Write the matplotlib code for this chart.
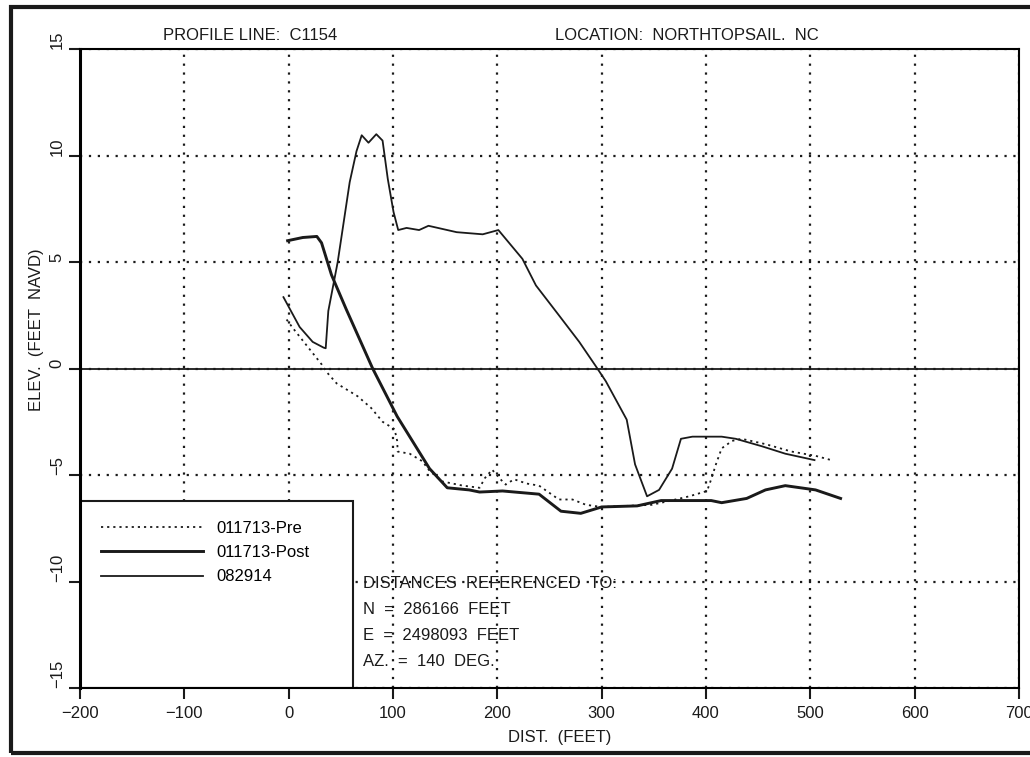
import matplotlib.pyplot as plt
from matplotlib.patches import Rectangle

plt.rcParams['font.family'] = ['Liberation Sans', 'DejaVu Sans']

# survey profiles (distance in feet, elevation in feet NAVD)
pre_x = [-2, 4, 31.5, 37, 46, 66, 79, 90, 101.5, 104, 104.5, 116, 128, 135, 147, 167, 183, 188, 195,
         202, 208, 216, 228, 240, 259, 272, 285, 300, 348, 362, 384, 401, 405, 409.5, 415, 425, 434,
         457, 482, 505, 520]
pre_y = [2.3, 1.9, 0.2, -0.2, -0.7, -1.3, -1.85, -2.5, -2.85, -3.4, -3.9, -4.0, -4.35, -4.8, -5.3, -5.5,
         -5.6, -5.15, -4.75, -5.15, -5.45, -5.2, -5.4, -5.5, -6.15, -6.15, -6.4, -6.5, -6.4, -6.25, -6.0,
         -5.75, -5.2, -4.5, -3.75, -3.4, -3.3, -3.55, -3.9, -4.1, -4.3]

post_x = [-1, 13.5, 27, 31.5, 41, 55, 80.5, 104, 135, 152, 173, 183, 205, 240, 261, 280, 300, 334, 357,
          405, 415, 439, 457, 476, 505, 529]
post_y = [6.0, 6.15, 6.2, 5.9, 4.4, 2.8, 0.0, -2.25, -4.7, -5.6, -5.7, -5.8, -5.75, -5.9, -6.7, -6.8,
          -6.5, -6.45, -6.2, -6.2, -6.3, -6.1, -5.7, -5.5, -5.7, -6.1]

aug_x = [-5, 10.5, 23, 33.5, 35.5, 38, 47, 58.5, 65, 70, 76.5, 84, 90, 95, 100.5, 105, 113, 125, 134,
         161, 186, 201, 224, 237, 259, 278.5, 294.5, 304, 324, 332, 343.5, 355, 367.5, 376, 387, 415,
         428.5, 453.5, 476, 504]
aug_y = [3.35, 1.95, 1.25, 0.98, 0.95, 2.7, 5.0, 8.75, 10.2, 10.95, 10.6, 11.0, 10.7, 8.9, 7.35, 6.5,
         6.6, 6.5, 6.7, 6.4, 6.3, 6.5, 5.15, 3.9, 2.5, 1.25, 0.1, -0.6, -2.4, -4.5, -6.0, -5.7, -4.7,
         -3.3, -3.2, -3.2, -3.3, -3.65, -4.0, -4.3]

labels = ['011713-Pre', '011713-Post', '082914']
xticks = list(range(-200, 701, 100))
yticks = list(range(-15, 16, 5))

fig = plt.figure(figsize=(10.3, 7.57), dpi=100)
ax = fig.add_axes([80/1030, 1-688/757, 939/1030, 639/757])

ink = '#1a1a1a'
ax.plot(pre_x, pre_y, color=ink, lw=1.3, ls=(0, (1.2, 2.2)), label=labels[0], zorder=3)
ax.plot(post_x, post_y, color=ink, lw=2.1, label=labels[1], zorder=3)
ax.plot(aug_x, aug_y, color=ink, lw=1.3, label=labels[2], zorder=3)
ax.axhline(0, color=ink, lw=1.3, zorder=2)

ax.set_xlim(-200, 700)
ax.set_ylim(-15, 15)
ax.set_xticks(xticks)
ax.set_yticks(yticks)
ax.set_yticklabels([str(v).replace('-', '\u2212') for v in yticks], rotation=90, va='bottom')
ax.tick_params(direction='out', length=8, width=1.5, labelsize=12, colors=ink, pad=5)
ax.tick_params(axis='y', pad=3)
ax.set_axisbelow(True)
ax.grid(True, color=ink, lw=1.6, ls=(0, (1, 3)))

for side in ['top', 'bottom', 'right']:
    ax.spines[side].set_linewidth(1.5)
ax.spines['left'].set_linewidth(2.2)

# legend box sits in the lower left corner of the plot
ax.add_patch(Rectangle((0, 0), 273/939, 187/639, transform=ax.transAxes,
                       facecolor='white', edgecolor=ink, lw=1.5, zorder=1))
ax.legend(loc='upper left', bbox_to_anchor=(21/939, 167/639), frameon=False, fontsize=12,
          handlelength=6.1, handletextpad=0.85, labelspacing=0.55, borderpad=0, borderaxespad=0)

ref = ['DISTANCES  REFERENCED  TO:', 'N  =  286166  FEET', 'E  =  2498093  FEET', 'AZ.  =  140  DEG.']
for i, t in enumerate(ref):
    ax.text(71, -10.1 - 1.22*i, t, fontsize=12, color=ink, va='center', zorder=4)

ax.set_xlabel('DIST.  (FEET)', fontsize=12, color=ink)
ax.xaxis.set_label_coords(480/939, -42/639)
ax.set_ylabel('ELEV.  (FEET  NAVD)', fontsize=12, color=ink)
ax.yaxis.set_label_coords(-36/939, (688-330)/639)

fig.text(163/1030, 1-35/757, 'PROFILE LINE:  C1154', fontsize=12, color=ink, va='center')
fig.text(555/1030, 1-35/757, 'LOCATION:  NORTHTOPSAIL.  NC', fontsize=12, color=ink, va='center')

# scanned page frame
fig.add_artist(Rectangle((11/1030, 4/757), 1.0, 746/757, transform=fig.transFigure,
                         fill=False, edgecolor=ink, lw=3))

fig.savefig('out.png', dpi=100)
